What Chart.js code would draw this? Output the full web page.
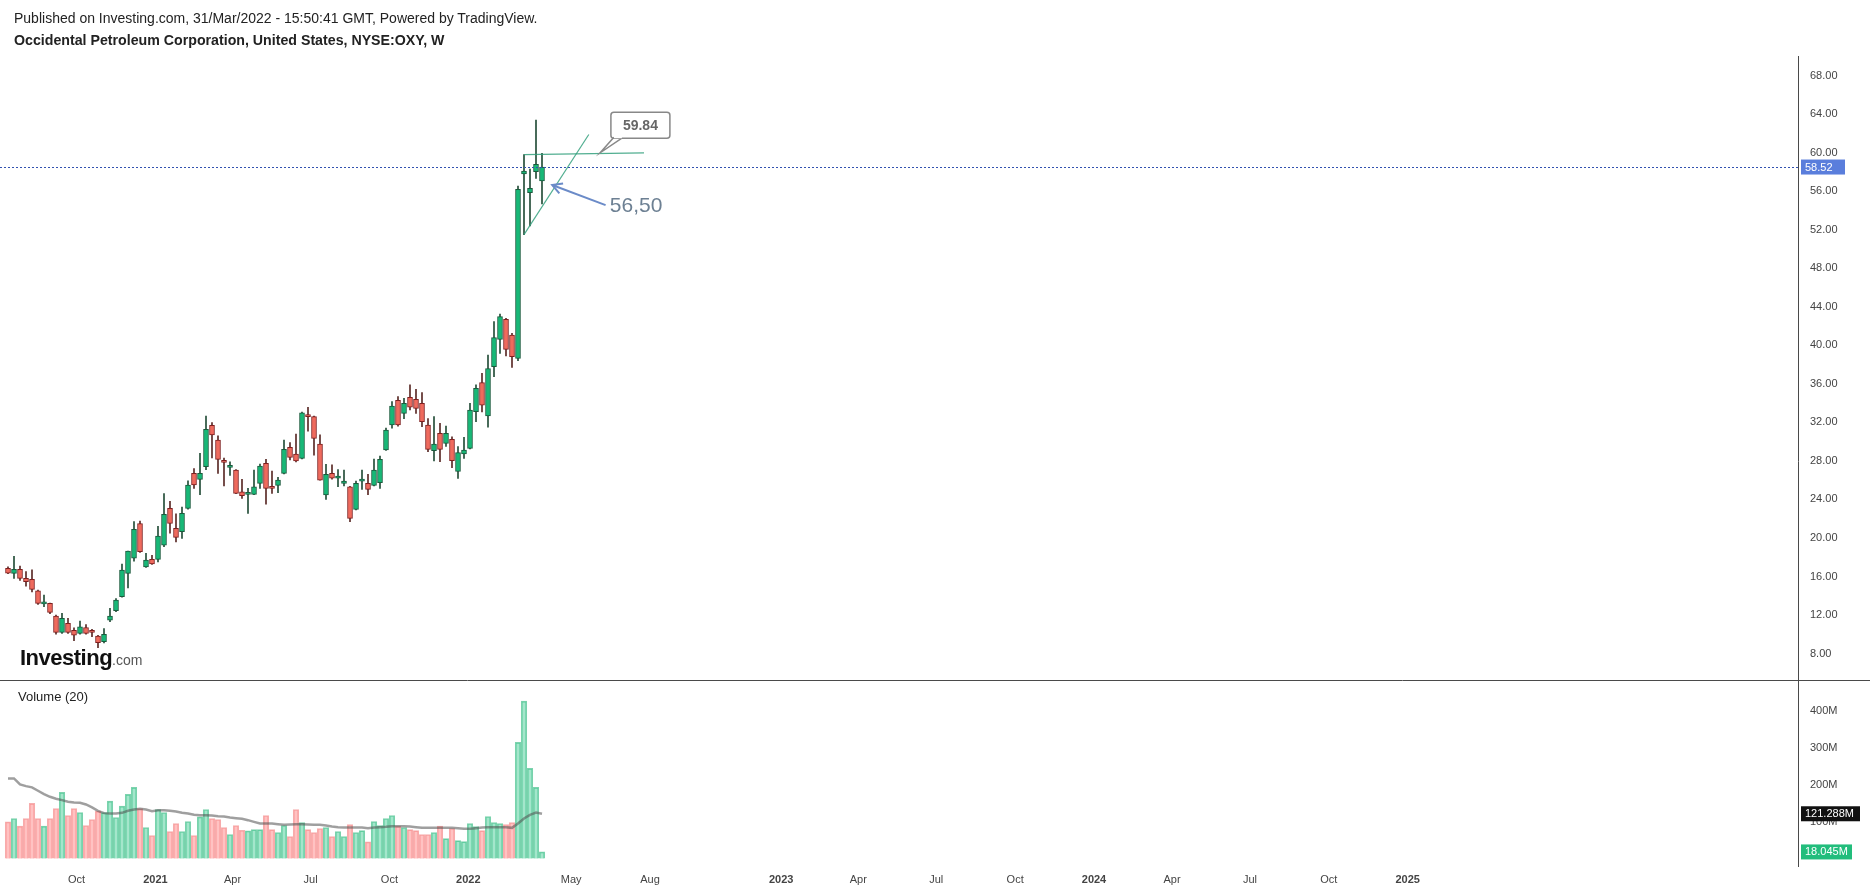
<!DOCTYPE html>
<html><head><meta charset="utf-8">
<script src="https://cdn.jsdelivr.net/npm/chart.js@4.4.0/dist/chart.umd.min.js"></script>
<style>
html,body{margin:0;padding:0;background:#fff;width:1870px;height:892px;overflow:hidden;font-family:Arial,"Liberation Sans",sans-serif;}
#wrap{position:relative;width:1870px;height:892px;}
#c{position:absolute;left:0;top:0;}
.hdr{position:absolute;left:14px;font-size:14px;color:#222;white-space:nowrap;}
#h1{top:10px;}
#h2{top:32px;font-weight:bold;font-size:14.2px;}
#vol{position:absolute;left:18px;top:689px;font-size:13px;color:#222;}
#logo{position:absolute;left:20px;top:645px;white-space:nowrap;color:#111;}
#logo b{font-size:22px;letter-spacing:-0.5px;}
#logo span{font-size:14px;color:#555;}
</style></head>
<body><div id="wrap">
<canvas id="c" width="1870" height="892"></canvas>
<div class="hdr" id="h1">Published on Investing.com, 31/Mar/2022 - 15:50:41 GMT, Powered by TradingView.</div>
<div class="hdr" id="h2">Occidental Petroleum Corporation, United States, NYSE:OXY, W</div>
<div id="vol">Volume (20)</div>
<div id="logo"><b>Investing</b><span>.com</span></div>
</div>
<script>
// ---- data (weekly candles starting week of 2020-07-13) ----
const startDate = '2020-07-13';
const opens = [16.85,16.32,16.74,15.8,15.7,14.5,13.15,13.2,11.9,10.2,
11.13,10.4,10.09,10.7,10.3,9.8,9.23,11.47,12.45,13.9,
16.32,17.9,21.5,17.0,17.77,17.77,19.26,23.07,21.0,20.65,
23.07,26.7,26.08,27.4,31.7,30.17,27.9,27.33,27.05,24.8,
24.53,24.53,25.67,27.75,25.25,25.46,26.7,29.4,28.7,28.27,
32.66,32.6,29.75,24.46,26.7,26.2,25.67,25.32,22.97,25.9,
25.67,25.46,25.74,29.13,31.73,34.3,32.94,34.6,34.4,33.98,
31.73,29.07,30.87,29.83,30.24,26.9,28.72,29.31,33.11,36.13,
32.67,37.79,40.63,42.7,41.08,38.65,57.8,55.86,58.04,57.07];
const highs = [17.0,18.1,17.08,16.5,16.7,14.6,14.07,13.25,12.0,12.17,
11.65,10.68,11.37,11.0,10.5,9.9,10.6,12.7,13.7,17.3,
18.64,21.7,21.76,18.4,18.2,21.2,24.6,23.8,22.5,23.2,
25.94,27.2,28.8,32.66,31.97,30.6,28.3,27.9,27.1,26.1,
25.15,27.05,27.68,28.16,26.95,26.3,30.17,29.9,30.8,33.08,
33.56,32.65,30.7,27.64,27.6,27.1,27.05,25.35,25.9,27.05,
26.6,28.2,28.5,31.4,34.15,34.67,34.5,35.9,35.44,35.1,
32.4,32.6,31.9,31.63,30.5,29.48,30.45,33.98,35.9,37.1,
39.0,42.46,43.26,42.8,41.25,56.55,59.8,58.3,63.4,59.94];
const lows = [16.3,15.8,15.6,15.0,14.4,13.1,12.86,12.15,10.0,10.1,
10.1,9.33,10.0,10.0,9.75,8.6,9.1,11.3,12.34,13.85,
14.8,17.6,18.5,16.95,17.25,17.5,19.1,20.5,19.6,19.95,
23.0,25.15,24.5,27.1,28.3,26.7,25.4,26.5,24.6,24.1,
22.55,24.5,25.15,23.5,24.63,24.7,26.65,28.1,27.9,28.2,
31.1,28.6,26.0,24.0,26.1,25.32,25.4,21.69,22.9,25.05,
24.5,25.4,25.15,29.1,31.4,31.6,32.4,33.3,32.94,31.56,
28.96,28.0,27.93,29.5,27.3,26.19,28.27,29.25,32.08,33.1,
31.5,36.75,39.17,38.9,37.72,38.4,51.5,52.4,57.35,54.68];
const closes = [16.35,16.74,15.8,15.46,14.66,13.2,13.25,12.27,10.2,11.65,
10.2,9.9,10.78,10.09,10.2,9.12,9.98,11.9,13.55,16.67,
18.64,20.9,18.57,17.7,17.3,20.2,22.45,21.5,20.06,22.55,
25.5,25.5,26.7,31.28,30.7,28.16,27.85,27.47,24.63,24.4,
24.7,25.32,27.47,25.15,25.15,26.0,29.2,28.37,28.0,33.0,
32.6,30.34,26.0,26.6,26.2,26.43,25.9,22.03,25.67,26.0,
25.05,27.05,28.16,31.2,33.7,31.73,33.98,33.57,33.46,32.08,
29.2,29.76,29.2,30.87,28.03,28.86,29.13,33.29,35.54,33.8,
37.6,40.8,42.98,39.59,38.83,56.2,58.1,56.3,58.8,58.52];
// volume in millions
const volumes = [99.4,108.5,87.7,108.5,149.2,108.5,87.7,108.5,135.6,179,
116.6,135.6,124.8,89.5,105.8,128.4,124.8,155.5,111.2,141.9,
173.6,192.6,135.6,84.1,62.4,132.9,124.8,73.2,94.9,73.2,
100.3,62.4,113,132.9,108.5,105.8,84.1,65.1,89.5,76.8,
75,78.6,78.6,116.6,78.6,70.5,89.5,59.7,132.9,97.6,
78.6,70.5,81.4,84.1,59.7,73.2,59.7,92.2,70.5,75.9,
45.2,100.3,89.5,108.5,116.6,87.7,84.1,78.6,75.9,65.1,
65.1,70.5,87.7,54.2,81.4,48.8,46.1,94.9,86.8,75.9,
113.9,97.6,94.9,92.2,97.6,314.6,425.8,244,192.6,18.045];
const volumeMA20 = [217,217,200.7,196,192.6,183.5,174.5,167.2,161.8,158.2,
153.7,151.9,151,146.4,138.3,129.3,123,122,122,123.8,
129.3,132.9,134.7,132.9,128.4,131,131,129.3,127.5,123.8,
122,118.4,117.5,117.5,116.6,114.8,113.9,111.2,109.4,107.6,
104,99.4,94.9,94.9,94.9,93.1,91.3,92.2,93.1,93.1,
92.2,91.3,91.3,89.5,86.8,85,84.1,84.1,84.1,84.1,
82.3,84.1,85,85.9,87.7,87.7,87.7,86.8,85,83.2,
83.2,83.2,83.2,83.2,83.2,82.3,80.5,80.5,82.3,84.1,
85,85,85,85,83.2,94.9,108.5,118.4,124.8,121.288];
const priceTicks = [8,12,16,20,24,28,32,36,40,44,48,52,56,60,64,68];
const volumeTicks = [100,200,300,400];
const timeTickDates = ['2020-10-01','2021-01-01','2021-04-01','2021-07-01','2021-10-01','2022-01-01','2022-05-01','2022-08-01','2023-01-01','2023-04-01','2023-07-01','2023-10-01','2024-01-01','2024-04-01','2024-07-01','2024-10-01','2025-01-01'];
const timeTickLabels = ['Oct','2021','Apr','Jul','Oct','2022','May','Aug','2023','Apr','Jul','Oct','2024','Apr','Jul','Oct','2025'];
const lastPrice = 58.52;
const lastVolumeMA = 121.288;
const lastVolume = 18.045;
// drawings (week index, price)
const topLine = [[86,59.8],[106,60.0]];
const riseLine = [[86,51.5],[96.8,61.9]];
const callout = {x:105.4, y:62.86, tipX:98.7, tipY:60.0, text:'59.84'};
const arrow = {x1:99.6, y1:54.56, x2:90.7, y2:56.66, label:'56,50', labelX:100.3};

// ---- build ----
const weekMs = 7*86400000;
const tickIdx = timeTickDates.map(d => (Date.parse(d) - Date.parse(startDate)) / weekMs);
const up = closes.map((c,i) => c >= opens[i]);
const bodyData = opens.map((o,i) => ({x:i, y:[o, closes[i]]}));
const wickData = lows.map((l,i) => ({x:i, y:[l, highs[i]]}));
const volData = volumes.map((v,i) => ({x:i, y:v}));
const maData = volumeMA20.map((v,i) => ({x:i, y:v}));

Chart.defaults.font.family = 'Arial, "Liberation Sans", sans-serif';

const overlay = {
  id:'overlay',
  afterDatasetsDraw(chart){
    const {ctx, scales:{x, y}} = chart;
    const px = v => x.getPixelForValue(v), py = v => y.getPixelForValue(v);
    ctx.save();
    const yy = Math.round(py(lastPrice)) + 0.5;
    ctx.strokeStyle = '#3252b0'; ctx.lineWidth = 1; ctx.setLineDash([2,2]);
    ctx.beginPath(); ctx.moveTo(x.left, yy); ctx.lineTo(x.right, yy); ctx.stroke();
    ctx.setLineDash([]);
    ctx.strokeStyle = 'rgba(50,160,125,0.85)'; ctx.lineWidth = 1.2;
    [topLine, riseLine].forEach(l => {
      ctx.beginPath(); ctx.moveTo(px(l[0][0]), py(l[0][1])); ctx.lineTo(px(l[1][0]), py(l[1][1])); ctx.stroke();
    });
    const cx = px(callout.x), cy = py(callout.y), w = 59, h = 26;
    const l = cx - w/2, t = cy - h/2;
    ctx.fillStyle = '#fff'; ctx.strokeStyle = '#888'; ctx.lineWidth = 1.5;
    ctx.beginPath();
    if (ctx.roundRect) ctx.roundRect(l, t, w, h, 3); else ctx.rect(l, t, w, h);
    ctx.fill(); ctx.stroke();
    ctx.beginPath();
    ctx.moveTo(l + 3, t + h - 1); ctx.lineTo(px(callout.tipX), py(callout.tipY)); ctx.lineTo(l + 11, t + h);
    ctx.stroke();
    ctx.fillStyle = '#fff';
    ctx.fillRect(l + 3, t + h - 2, 8, 2);
    ctx.fillStyle = '#666'; ctx.font = 'bold 14px Arial, "Liberation Sans", sans-serif';
    ctx.textAlign = 'center'; ctx.textBaseline = 'middle';
    ctx.fillText(callout.text, cx, cy + 1);
    const ax1 = px(arrow.x1), ay1 = py(arrow.y1), ax2 = px(arrow.x2), ay2 = py(arrow.y2);
    ctx.strokeStyle = '#6b8bc8'; ctx.lineWidth = 2;
    ctx.beginPath(); ctx.moveTo(ax1, ay1); ctx.lineTo(ax2, ay2); ctx.stroke();
    const ang = Math.atan2(ay1 - ay2, ax1 - ax2), hl = 11;
    ctx.beginPath();
    ctx.moveTo(ax2 + hl*Math.cos(ang - 0.5), ay2 + hl*Math.sin(ang - 0.5));
    ctx.lineTo(ax2, ay2);
    ctx.lineTo(ax2 + hl*Math.cos(ang + 0.5), ay2 + hl*Math.sin(ang + 0.5));
    ctx.stroke();
    ctx.fillStyle = '#6d8093'; ctx.font = '21px Arial, "Liberation Sans", sans-serif';
    ctx.textAlign = 'left'; ctx.textBaseline = 'middle';
    ctx.fillText(arrow.label, px(arrow.labelX), ay1 + 1);
    ctx.restore();
  },
  afterDraw(chart){
    const {ctx, scales:{x, y, yv}} = chart;
    ctx.save();
    ctx.strokeStyle = '#4a4a4a'; ctx.lineWidth = 1;
    ctx.beginPath();
    ctx.moveTo(0, Math.round(yv.top) + 0.5); ctx.lineTo(chart.width, Math.round(yv.top) + 0.5);
    ctx.moveTo(Math.round(x.right) + 0.5, y.top); ctx.lineTo(Math.round(x.right) + 0.5, yv.bottom);
    ctx.stroke();
    const box = (scale, v, txt, bg, w) => {
      const yc = scale.getPixelForValue(v);
      ctx.fillStyle = bg; ctx.fillRect(x.right + 3, yc - 7.5, w, 15);
      ctx.fillStyle = '#fff'; ctx.font = '11px Arial, "Liberation Sans", sans-serif';
      ctx.textAlign = 'left'; ctx.textBaseline = 'middle';
      ctx.fillText(txt, x.right + 7, yc + 0.5);
    };
    box(y, lastPrice, lastPrice.toFixed(2), '#5a7edc', 44);
    box(yv, lastVolumeMA, lastVolumeMA.toFixed(3) + 'M', '#111', 59);
    box(yv, lastVolume, lastVolume.toFixed(3) + 'M', '#22bd7c', 51);
    ctx.restore();
  }
};

new Chart(document.getElementById('c'), {
  type:'bar',
  data:{datasets:[
    {type:'line', data:maData, yAxisID:'yv', borderColor:'rgba(80,80,80,0.55)', borderWidth:2.5, pointRadius:0, tension:0, order:0},
    {data:bodyData, yAxisID:'y', grouped:false, barThickness:5, minBarLength:2, borderSkipped:false, borderWidth:1,
      backgroundColor: up.map(u => u ? '#17b877' : '#ef6a5d'),
      borderColor: up.map(u => u ? '#1a5a3c' : '#7e1f1f'), order:1},
    {data:wickData, yAxisID:'y', grouped:false, barThickness:1, borderWidth:0,
      backgroundColor: up.map(u => u ? '#244d38' : '#5a2a26'), order:2},
    {data:volData, yAxisID:'yv', grouped:false, barThickness:5.6, borderWidth:1, borderSkipped:'start',
      backgroundColor: up.map(u => u ? 'rgba(38,196,130,0.42)' : 'rgba(255,128,128,0.48)'),
      borderColor: up.map(u => u ? 'rgba(40,180,120,0.6)' : 'rgba(240,120,120,0.6)'), order:3}
  ]},
  options:{
    responsive:false, animation:false, devicePixelRatio:1, events:[],
    layout:{padding:{top:56, left:0, right:0, bottom:0}},
    plugins:{legend:{display:false}, tooltip:{enabled:false}},
    scales:{
      x:{type:'linear', position:'bottom', offset:false, min:-1.3333, max:298.3333,
        grid:{display:false, drawTicks:false, offset:false}, border:{display:false},
        afterBuildTicks: s => { s.ticks = tickIdx.map(v => ({value:v})); },
        afterFit: s => { s.height = 25; },
        ticks:{autoSkip:false, maxRotation:0, padding:6, color:'#444',
          font: c => ({size:11, weight: /^\d{4}$/.test(timeTickLabels[c.index] || '') ? 'bold' : 'normal'}),
          callback:(v,i) => timeTickLabels[i]}},
      y:{type:'linear', position:'right', stack:'pane', stackWeight:624, min:5.25, max:70.05,
        grid:{display:false, drawTicks:false}, border:{display:false},
        afterBuildTicks: s => { s.ticks = priceTicks.map(v => ({value:v})); },
        afterFit: s => { s.width = 72; },
        ticks:{padding:12, color:'#444', font:{size:11}, callback: v => Number(v).toFixed(2)}},
      yv:{type:'linear', position:'right', stack:'pane', stackWeight:187, min:-22.7, max:483.1,
        grid:{display:false, drawTicks:false}, border:{display:false},
        afterBuildTicks: s => { s.ticks = volumeTicks.map(v => ({value:v})); },
        afterFit: s => { s.width = 72; },
        ticks:{padding:12, color:'#444', font:{size:11}, callback: v => v + 'M'}}
    }
  },
  plugins:[overlay]
});
</script>
</body></html>
